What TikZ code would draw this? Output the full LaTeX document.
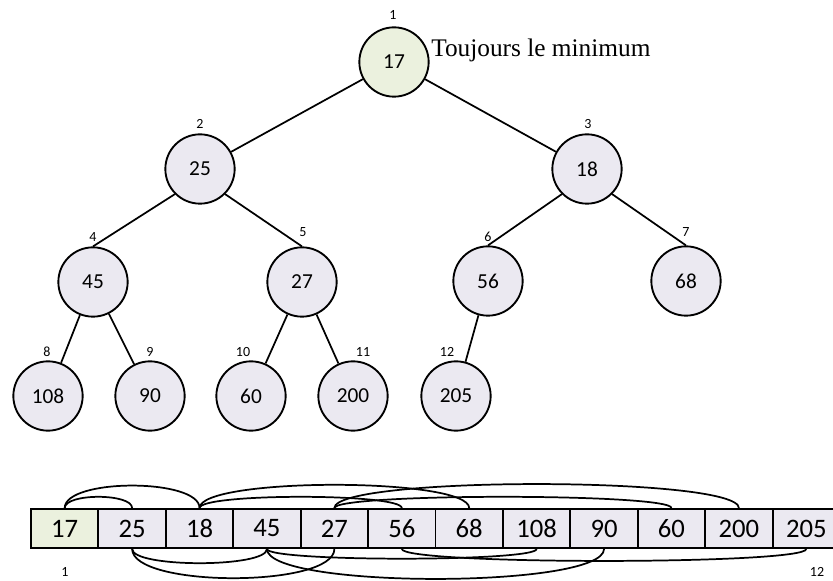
\documentclass[tikz,border=0pt]{standalone}
\usepackage{fontspec}
\setmainfont{Carlito}
\newfontfamily\serifnote{Liberation Serif}
\definecolor{lav}{HTML}{EBE9F1}
\definecolor{grn}{HTML}{EBF1DE}
\begin{document}
\begin{tikzpicture}[x=0.75pt,y=-0.75pt,
  tnode/.style={circle,draw,line width=1.4pt,fill=lav,minimum size=52pt,inner sep=0pt,font=\fontsize{16pt}{18pt}\selectfont},
  cell/.style={rectangle,draw,line width=1.4pt,fill=lav,minimum width=50.57pt,minimum height=29.25pt,inner sep=0pt,font=\fontsize{20pt}{22pt}\selectfont},
  idx/.style={inner sep=0pt,font=\fontsize{10.5pt}{12pt}\selectfont},
  edge/.style={line width=1.3pt},
  arc/.style={line width=1.3pt}]
\clip (0,0) rectangle (833,581);
\useasboundingbox (0,0) rectangle (833,581);
% tree
\node[tnode,fill=grn] (t1) at (394,62) {17};
\node[tnode] (t2) at (200,169) {25};
\node[tnode] (t3) at (587,169) {18};
\node[tnode] (t4) at (93,282) {45};
\node[tnode] (t5) at (302,282) {27};
\node[tnode] (t6) at (488,281) {56};
\node[tnode] (t7) at (686,281) {68};
\node[tnode] (t8) at (48,396) {108};
\node[tnode] (t9) at (150,396) {90};
\node[tnode] (t10) at (251,396) {60};
\node[tnode] (t11) at (353,396) {200};
\node[tnode] (t12) at (456,396) {205};
% index labels
\node[idx] (l1) at (393,15) {1};
\node[idx] (l2) at (200,124) {2};
\node[idx] (l3) at (588,124) {3};
\node[idx] (l4) at (93,237) {4};
\node[idx] (l5) at (303,232) {5};
\node[idx] (l6) at (488,237) {6};
\node[idx] (l7) at (686,232) {7};
\node[idx] (l8) at (47,352) {8};
\node[idx] (l9) at (150,352) {9};
\node[idx] (l10) at (243,352) {10};
\node[idx] (l11) at (363,352) {11};
\node[idx] (l12) at (447,352) {12};
% note
\node[anchor=base west,inner sep=0pt,font=\serifnote\fontsize{19pt}{22pt}\selectfont] (note) at (431,56.5) {Toujours le minimum};
% edges
\draw[edge] (t1) -- (t2);
\draw[edge] (t1) -- (t3);
\draw[edge] (t2.south west) -- (t4.north);
\draw[edge] (t2.south east) -- (t5.north);
\draw[edge] (t3.south west) -- (t6.north);
\draw[edge] (t3.south east) -- (t7.north);
\draw[edge] (t4) -- (t8);
\draw[edge] (t4) -- (t9);
\draw[edge] (t5) -- (t10);
\draw[edge] (t5) -- (t11);
\draw[edge] (t6) -- (t12);
% array
\foreach \v [count=\i] in {17,25,18,45,27,56,68,108,90,60,200,205}{
  \node[cell] (a\i) at ({64.71+67.42*(\i-1)},528.5) {\v};
}
\node[cell,fill=grn] at (a1) {17};
\node[idx] (b1) at (65,572) {1};
\node[idx] (b12) at (817,572) {12};
% arcs above
\draw[arc] (a1.north) .. controls +(0,-15) and +(0,-15) .. (a2.north);
\draw[arc] (a1.north) .. controls +(0,-30) and +(0,-30) .. (a3.north);
\draw[arc] (a3.north) .. controls +(0,-15) and +(0,-15) .. (a6.north);
\draw[arc] (a3.north) .. controls +(0,-31) and +(0,-31) .. (a7.north);
\draw[arc] (a5.north) .. controls +(0,-15) and +(0,-15) .. (a10.north);
\draw[arc] (a5.north) .. controls +(0,-32) and +(0,-32) .. (a11.north);
% arcs below
\draw[arc] (a2.south) .. controls +(0,19) and +(0,19) .. (a4.south);
\draw[arc] (a2.south) .. controls +(0,39) and +(0,39) .. (a5.south);
\draw[arc] (a4.south) .. controls +(0,13) and +(0,13) .. (a8.south);
\draw[arc] (a4.south) .. controls +(0,40) and +(0,40) .. (a9.south);
\draw[arc] (a6.south) .. controls +(0,16) and +(0,16) .. (a12.south);
\end{tikzpicture}
\end{document}
